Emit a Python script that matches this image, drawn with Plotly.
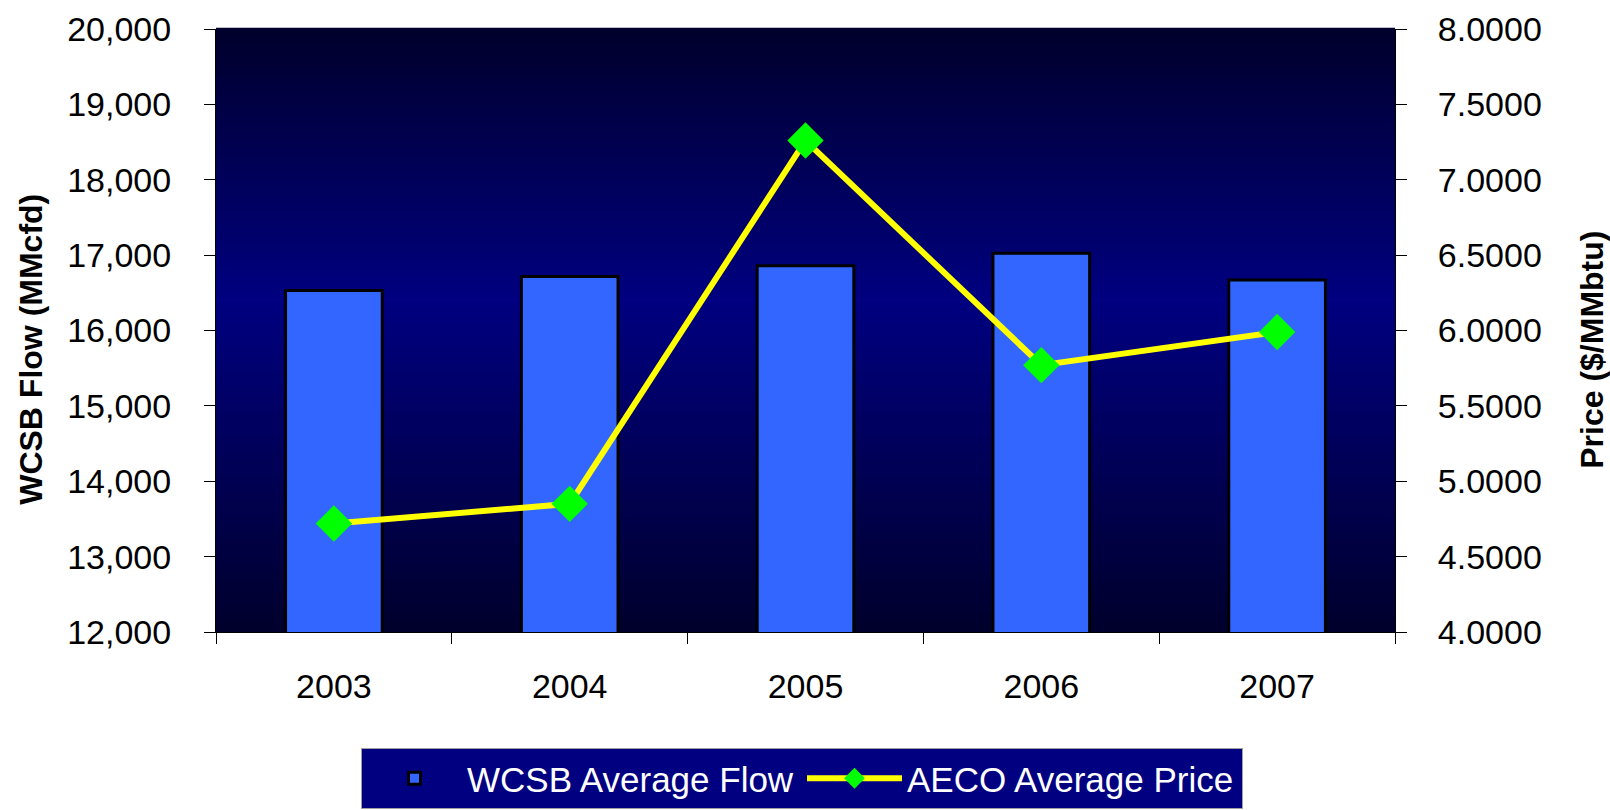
import plotly.graph_objects as go

years = ["2003", "2004", "2005", "2006", "2007"]
wcsb_flow = [16530, 16715, 16860, 17025, 16670]
aeco_price = [4.72, 4.85, 7.26, 5.77, 5.99]
flow_ticks = [12000, 13000, 14000, 15000, 16000, 17000, 18000, 19000, 20000]
price_ticks = [4.0, 4.5, 5.0, 5.5, 6.0, 6.5, 7.0, 7.5, 8.0]

FONT = "Liberation Sans, Arial, sans-serif"

fig = go.Figure()
fig.add_trace(go.Bar(
    x=years, y=wcsb_flow, name="WCSB Average Flow",
    marker=dict(color="#3366FF", line=dict(color="#000000", width=3)),
    yaxis="y",
))
fig.add_trace(go.Scatter(
    x=years, y=aeco_price, name="AECO Average Price", mode="lines+markers",
    line=dict(color="#FFFF00", width=6),
    marker=dict(symbol="diamond", size=28, color="#00FF00"),
    yaxis="y2",
))

# vertical gradient background (dark at top/bottom, navy in the middle)
shapes = []
n = 90
dark = (0, 0, 44)
bright = (0, 0, 128)
peak = 0.55  # fraction from bottom where it is brightest
for i in range(n):
    y0 = i / n
    y1 = (i + 1) / n
    t = (y0 + y1) / 2
    if t < peak:
        f = t / peak
    else:
        f = (1 - t) / (1 - peak)
    c = tuple(int(round(d + (b - d) * f)) for d, b in zip(dark, bright))
    shapes.append(dict(
        type="rect", xref="x domain", yref="y domain",
        x0=0, x1=1, y0=y0, y1=y1 + 0.002,
        fillcolor="rgb(%d,%d,%d)" % c, line=dict(width=0), layer="below",
    ))

fig.update_layout(
    width=1610, height=810, autosize=False,
    margin=dict(l=216, r=215, t=29, b=178, autoexpand=False),
    paper_bgcolor="#FFFFFF",
    plot_bgcolor="#000080",
    font=dict(family=FONT, size=34, color="#000000"),
    bargap=0.59,
    showlegend=True,
    shapes=shapes,
    xaxis=dict(
        type="category", categoryorder="array", categoryarray=years,
        tickson="boundaries", ticks="outside", ticklen=11, tickcolor="#000000",
        showline=True, linecolor="#000000", linewidth=1,
        showgrid=False, zeroline=False, ticklabelstandoff=24,
        tickfont=dict(size=34), automargin=False,
    ),
    yaxis=dict(
        range=[12000, 20000], tickvals=flow_ticks, tickformat=",d",
        ticks="outside", ticklen=11, tickcolor="#000000",
        showline=True, linecolor="#000000", linewidth=1,
        showgrid=False, zeroline=False, ticklabelstandoff=26,
        tickfont=dict(size=34), automargin=False,
    ),
    yaxis2=dict(
        range=[4, 8], tickvals=price_ticks, tickformat=".4f",
        overlaying="y", side="right",
        ticks="outside", ticklen=11, tickcolor="#000000",
        showline=True, linecolor="#000000", linewidth=1,
        showgrid=False, zeroline=False, ticklabelstandoff=24,
        tickfont=dict(size=34), automargin=False,
    ),
    legend=dict(
        orientation="h", x=802 / 1610, xanchor="center",
        yref="container", y=1 - 748 / 810, yanchor="top",
        bgcolor="#000080", bordercolor="#A0A0A0", borderwidth=1,
        font=dict(family=FONT, size=35, color="#FFFFFF"),
        xref="container",
        entrywidth=330, itemwidth=95,
    ),
    annotations=[
        dict(text="<b>WCSB Flow (MMcfd)</b>", xref="paper", yref="paper",
             x=(31 - 216) / 1179, y=0.468, xanchor="center", yanchor="middle",
             textangle=-90, showarrow=False, font=dict(size=32, color="#000000")),
        dict(text="<b>Price ($/MMbtu)</b>", xref="paper", yref="paper",
             x=(1592 - 216) / 1179, y=0.468, xanchor="center", yanchor="middle",
             textangle=-90, showarrow=False, font=dict(size=32, color="#000000")),
    ],
)

fig.write_html("out.html")
